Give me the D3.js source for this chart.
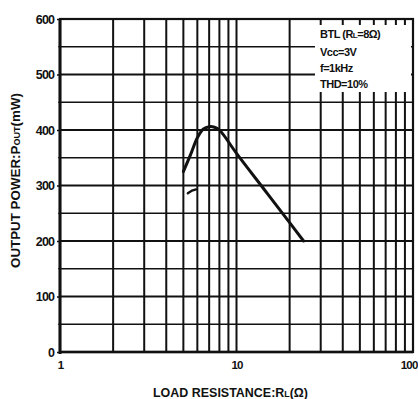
<!DOCTYPE html>
<html>
<head>
<meta charset="utf-8">
<script src="https://cdn.jsdelivr.net/npm/d3@7"></script>
<style>
  html, body { margin: 0; padding: 0; background: #fff; }
  svg { display: block; }
  text { font-family: "Liberation Sans", Arial, sans-serif; font-weight: bold; fill: #111; }
</style>
</head>
<body>
<svg id="chart" width="418" height="399"></svg>
<script>
// Load resistance (Ω) vs. output power (mW), BTL, Vcc = 3 V, f = 1 kHz, THD = 10 %
const loadOhms   = [5.0, 5.5, 6.0, 6.5, 7.0, 7.5, 8.0, 10, 15, 20, 24];
const powerMw    = [325, 356, 386, 402, 406, 405, 400, 358, 285, 233, 200];

// short stray stroke under the rising edge
const strokeOhms = [5.3, 5.6, 5.9];
const strokeMw   = [286, 291, 293];

const xTicks      = [1, 10, 100];
const xGrid       = [2, 3, 4, 5, 6, 7, 8, 9, 20, 30, 40, 50, 60, 70, 80, 90];
const yTicks      = [0, 100, 200, 300, 400, 500, 600];
const yMinorGrid  = [50, 150, 250, 350, 450, 550];
const notes       = ["BTL (R|L|=8Ω)", "Vcc=3V", "f=1kHz", "THD=10%"];

const svg = d3.select("#chart");
const plotL = 60, plotR = 413, plotT = 19, plotB = 352;

const x = d3.scaleLog().domain([1, 100]).range([plotL, plotR]);
const y = d3.scaleLinear().domain([0, 600]).range([plotB, plotT]);

const ink = "#111";

// minor horizontal grid (50 mW steps)
svg.append("g").selectAll("line").data(yMinorGrid).join("line")
  .attr("x1", plotL).attr("x2", plotR)
  .attr("y1", d => y(d)).attr("y2", d => y(d))
  .attr("stroke", ink).attr("stroke-width", 1.5);

// major horizontal grid
svg.append("g").selectAll("line").data(yTicks.filter(d => d > 0 && d < 600)).join("line")
  .attr("x1", plotL).attr("x2", plotR)
  .attr("y1", d => y(d)).attr("y2", d => y(d))
  .attr("stroke", ink).attr("stroke-width", 2);

// vertical grid
svg.append("g").selectAll("line").data(xGrid.concat([10])).join("line")
  .attr("x1", d => x(d)).attr("x2", d => x(d))
  .attr("y1", plotT).attr("y2", plotB)
  .attr("stroke", ink).attr("stroke-width", 2);

// condition box knocks out the grid in the upper right corner
svg.append("rect")
  .attr("x", 315).attr("y", 25).attr("width", 96).attr("height", 67)
  .attr("fill", "#fff");

// frame
svg.append("rect")
  .attr("x", plotL).attr("y", plotT)
  .attr("width", plotR - plotL).attr("height", plotB - plotT)
  .attr("fill", "none").attr("stroke", ink).attr("stroke-width", 2.2);
svg.append("line").attr("x1", plotL).attr("x2", plotL).attr("y1", plotT).attr("y2", plotB + 2)
  .attr("stroke", ink).attr("stroke-width", 3);
svg.append("line").attr("x1", plotL - 1).attr("x2", plotR).attr("y1", plotB).attr("y2", plotB)
  .attr("stroke", ink).attr("stroke-width", 2.6);

// y axis ticks and labels
const yAxis = d3.axisLeft(y).tickValues(yTicks).tickSize(3).tickPadding(3).tickFormat(d3.format("d"));
const gy = svg.append("g").attr("transform", `translate(${plotL},0)`).call(yAxis);
gy.select(".domain").remove();
gy.selectAll(".tick line").attr("stroke", ink).attr("stroke-width", 1.5);
gy.selectAll(".tick text")
  .style("font-size", "12.5px").style("letter-spacing", "-0.9px")
  .attr("fill", ink).attr("dy", "0.35em");
svg.append("g").selectAll("line").data(yMinorGrid).join("line")
  .attr("x1", plotL - 2).attr("x2", plotL)
  .attr("y1", d => y(d)).attr("y2", d => y(d))
  .attr("stroke", ink).attr("stroke-width", 1.2);

// x axis labels; the last one is pulled in to stay on the page
const xAxis = d3.axisBottom(x).tickValues(xTicks).tickSize(0).tickPadding(9).tickFormat(d3.format("d"));
const gx = svg.append("g").attr("transform", `translate(0,${plotB})`).call(xAxis);
gx.select(".domain").remove();
gx.selectAll(".tick text")
  .style("font-size", "11.5px").style("letter-spacing", "-0.8px")
  .attr("fill", ink)
  .attr("text-anchor", d => d === 100 ? "end" : "middle")
  .attr("x", d => d === 100 ? 417 - x(d) : 0);

// curve
const line = d3.line()
  .x(d => x(d[0])).y(d => y(d[1]))
  .curve(d3.curveCatmullRom.alpha(0.5));
svg.append("path")
  .datum(loadOhms.map((r, i) => [r, powerMw[i]]))
  .attr("d", line)
  .attr("fill", "none").attr("stroke", ink).attr("stroke-width", 3)
  .attr("stroke-linecap", "round").attr("stroke-linejoin", "round");

svg.append("path")
  .datum(strokeOhms.map((r, i) => [r, strokeMw[i]]))
  .attr("d", d3.line().x(d => x(d[0])).y(d => y(d[1])))
  .attr("fill", "none").attr("stroke", ink).attr("stroke-width", 2.4)
  .attr("stroke-linecap", "round");

// condition notes ("|" marks a subscript)
const noteBase = [38, 56, 72, 88];
notes.forEach((s, i) => {
  const t = svg.append("text").attr("x", 320).attr("y", noteBase[i])
    .style("font-size", "11px").style("letter-spacing", "-0.5px");
  s.split("|").forEach((part, k) => {
    t.append("tspan").text(part).style("font-size", k === 1 ? "8px" : "11px");
  });
});

// axis titles, condensed to their column widths
const yTitle = svg.append("text")
  .attr("transform", `translate(20,268) rotate(-90)`)
  .attr("text-anchor", "start")
  .attr("textLength", 175).attr("lengthAdjust", "spacingAndGlyphs")
  .style("font-size", "12.5px");
yTitle.append("tspan").text("OUTPUT  POWER:P");
yTitle.append("tspan").text("OUT").style("font-size", "8.5px");
yTitle.append("tspan").text("(mW)");

const xTitle = svg.append("text")
  .attr("x", 153).attr("y", 397)
  .attr("text-anchor", "start")
  .attr("textLength", 155).attr("lengthAdjust", "spacingAndGlyphs")
  .style("font-size", "12px");
xTitle.append("tspan").text("LOAD RESISTANCE:R");
xTitle.append("tspan").text("L").style("font-size", "8.5px");
xTitle.append("tspan").text("(Ω)");
</script>
</body>
</html>
